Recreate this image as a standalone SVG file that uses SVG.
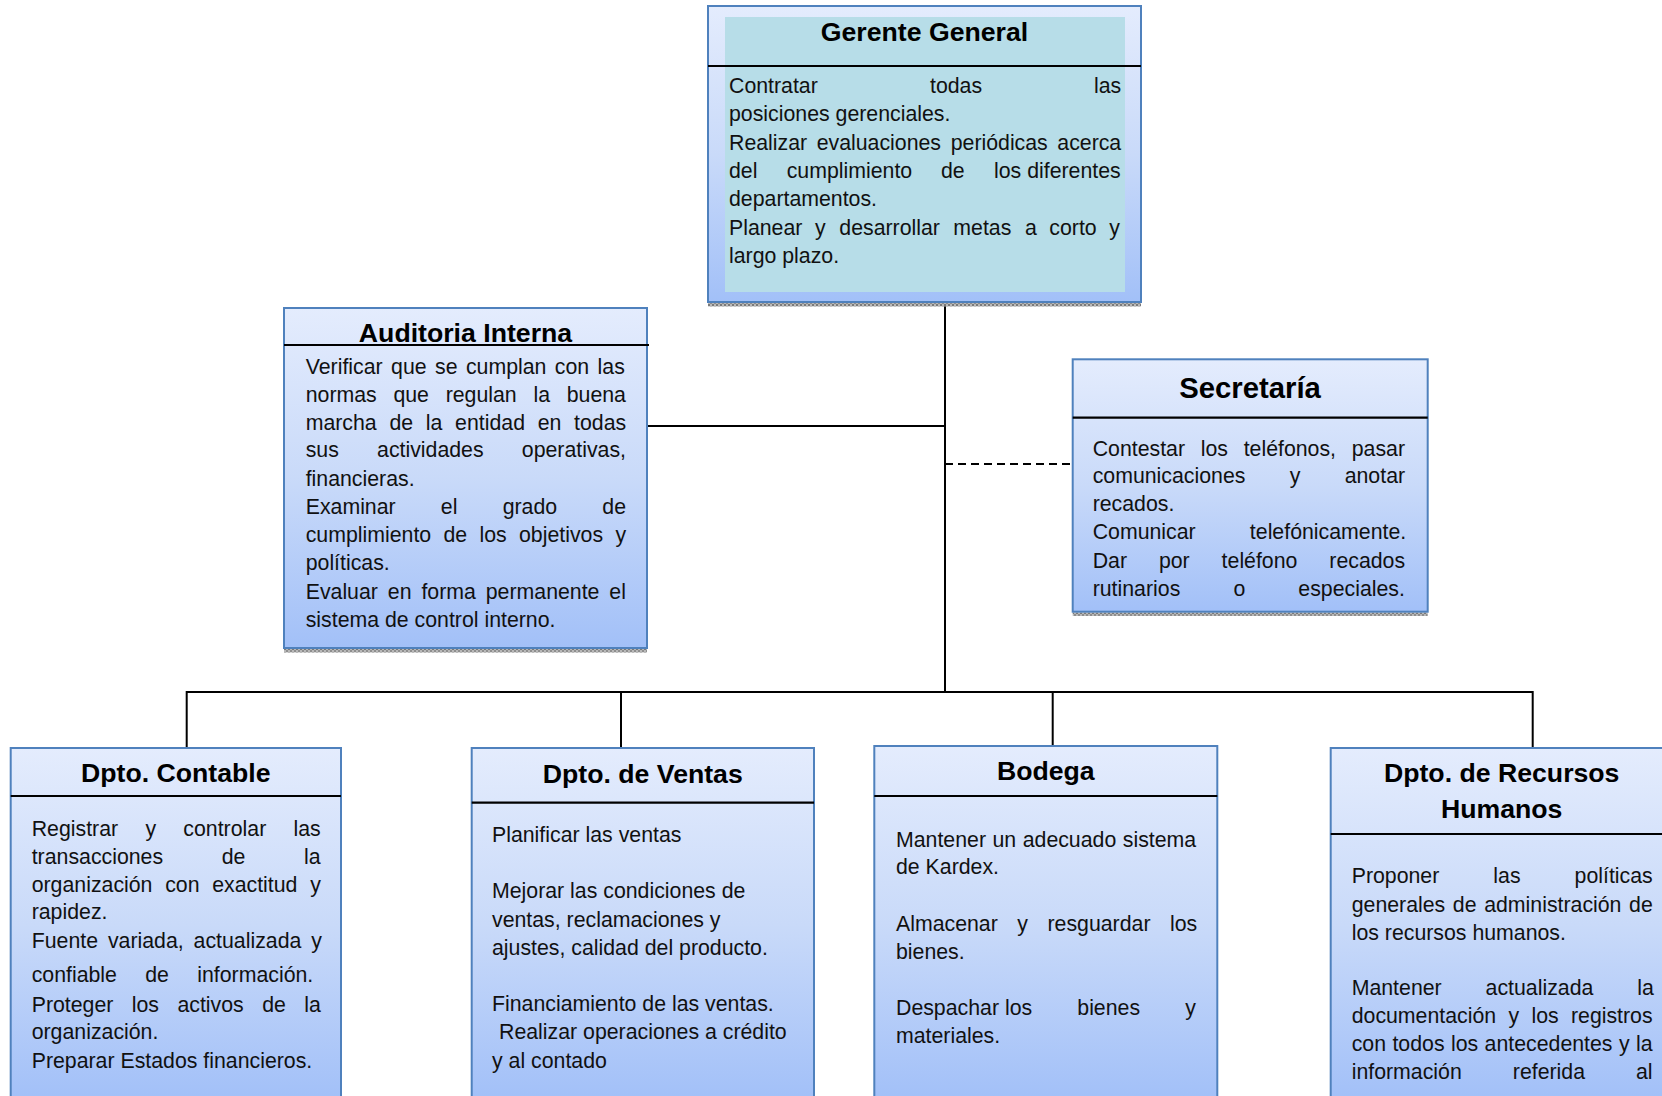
<svg xmlns="http://www.w3.org/2000/svg" width="1662" height="1096" viewBox="0 0 1662 1096">
  <defs>
    <linearGradient id="boxFill" x1="0" y1="0" x2="0" y2="1">
      <stop offset="0" stop-color="#e4ecfd"/>
      <stop offset="0.5" stop-color="#c9daf9"/>
      <stop offset="1" stop-color="#a2c0f8"/>
    </linearGradient>
    <pattern id="shadowHatch" width="4" height="4" patternUnits="userSpaceOnUse">
      <rect width="4" height="4" fill="#b8b8b8"/>
      <rect width="2" height="2" fill="#7a7a7a"/>
      <rect x="2" y="2" width="2" height="2" fill="#8e8e8e"/>
    </pattern>
    <style>
      .box { fill: url(#boxFill); stroke: #4f81bd; stroke-width: 2; }
      .inner { fill: #b7dde8; }
      .shadow { fill: url(#shadowHatch); }
      .hdr { stroke: #000; stroke-width: 2.2; }
      .ttl { font-family: "Liberation Sans", Arial, sans-serif; font-weight: bold; font-size: 26.67px; fill: #000; text-anchor: middle; }
      .txt { font-family: "Liberation Sans", Arial, sans-serif; font-size: 21.3px; fill: #111; }
      .link { stroke: #000; stroke-width: 2; fill: none; }
      .dash { stroke-dasharray: 8 5; }
    </style>
  </defs>

  <!-- connectors -->
  <g id="connectors">
    <line class="link" x1="945" y1="306" x2="945" y2="692"/>
    <line class="link" x1="647" y1="426" x2="945" y2="426"/>
    <line class="link dash" x1="945" y1="464" x2="1073" y2="464"/>
    <polyline class="link" points="186.7,748 186.7,692 1532.7,692 1532.7,748"/>
    <line class="link" x1="621" y1="692" x2="621" y2="748"/>
    <line class="link" x1="1052.7" y1="692" x2="1052.7" y2="746"/>
  </g>

  <!-- Gerente General -->
  <g id="gerente-general">
    <rect class="shadow" x="708" y="303" width="433" height="3.5"/>
    <rect class="box" x="708" y="6" width="433" height="296"/>
    <rect class="inner" x="725" y="17" width="400" height="275"/>
    <line class="hdr" x1="708" y1="66" x2="1141" y2="66"/>
    <text class="ttl" x="924.5" y="41">Gerente General</text>
    <text class="txt" y="93"><tspan x="729">Contratar</tspan><tspan x="930">todas</tspan><tspan x="1094">las</tspan></text>
    <text class="txt" x="729" y="121">posiciones gerenciales.</text>
    <text class="txt" y="149.5"><tspan x="729">Realizar</tspan><tspan x="816.7">evaluaciones</tspan><tspan x="950.7">periódicas</tspan><tspan x="1057.3">acerca</tspan></text>
    <text class="txt" y="178"><tspan x="729">del</tspan><tspan x="786.7">cumplimiento</tspan><tspan x="941">de</tspan><tspan x="994">los diferentes</tspan></text>
    <text class="txt" x="729" y="206">departamentos.</text>
    <text class="txt" y="234.5"><tspan x="729">Planear</tspan><tspan x="815">y</tspan><tspan x="839.3">desarrollar</tspan><tspan x="953.3">metas</tspan><tspan x="1025">a</tspan><tspan x="1049.3">corto</tspan><tspan x="1109.3">y</tspan></text>
    <text class="txt" x="729" y="262.5">largo plazo.</text>
  </g>

  <!-- Auditoria Interna -->
  <g id="auditoria-interna">
    <rect class="shadow" x="284" y="649" width="363" height="3.5"/>
    <rect class="box" x="284" y="308" width="363" height="340"/>
    <line class="hdr" x1="284" y1="345" x2="649" y2="345"/>
    <text class="ttl" x="465.5" y="342">Auditoria Interna</text>
    <text class="txt" x="305.7" y="374" word-spacing="2.5">Verificar que se cumplan con las</text>
    <text class="txt" x="305.7" y="401.7" word-spacing="10.8">normas que regulan la buena</text>
    <text class="txt" x="305.7" y="430" word-spacing="6.8">marcha de la entidad en todas</text>
    <text class="txt" x="305.7" y="457.3" word-spacing="32.3">sus actividades operativas,</text>
    <text class="txt" x="305.7" y="485.7">financieras.</text>
    <text class="txt" x="305.7" y="514.3" word-spacing="39.3">Examinar el grado de</text>
    <text class="txt" x="305.7" y="542.3" word-spacing="6.4">cumplimiento de los objetivos y</text>
    <text class="txt" x="305.7" y="570">políticas.</text>
    <text class="txt" x="305.7" y="599" word-spacing="4">Evaluar en forma permanente el</text>
    <text class="txt" x="305.7" y="626.7">sistema de control interno.</text>
  </g>

  <!-- Secretaría -->
  <g id="secretaria">
    <rect class="shadow" x="1072.7" y="612.5" width="355" height="3.5"/>
    <rect class="box" x="1072.7" y="359.3" width="355" height="252.4"/>
    <line class="hdr" x1="1072.7" y1="417.7" x2="1427.7" y2="417.7"/>
    <text class="ttl" x="1250" y="397.5" style="font-size:29.3px">Secretaría</text>
    <text class="txt" x="1092.7" y="455.5" word-spacing="9.8">Contestar los teléfonos, pasar</text>
    <text class="txt" x="1092.7" y="483" word-spacing="38.4">comunicaciones y anotar</text>
    <text class="txt" x="1092.7" y="511">recados.</text>
    <text class="txt" x="1092.7" y="539" word-spacing="48.3">Comunicar telefónicamente.</text>
    <text class="txt" x="1092.7" y="567.5" word-spacing="26">Dar por teléfono recados</text>
    <text class="txt" x="1092.7" y="595.5" word-spacing="47.2">rutinarios o especiales.</text>
  </g>

  <!-- Dpto. Contable -->
  <g id="dpto-contable">
    <rect class="box" x="10.7" y="748" width="330.3" height="352"/>
    <line class="hdr" x1="10.7" y1="796" x2="341" y2="796"/>
    <text class="ttl" x="175.8" y="782">Dpto. Contable</text>
    <text class="txt" x="31.7" y="836" word-spacing="21.4">Registrar y controlar las</text>
    <text class="txt" x="31.7" y="864" word-spacing="52.7">transacciones de la</text>
    <text class="txt" x="31.7" y="892" word-spacing="6.8">organización con exactitud y</text>
    <text class="txt" x="31.7" y="919.3">rapidez.</text>
    <text class="txt" x="31.7" y="948.3" word-spacing="4">Fuente variada, actualizada y</text>
    <text class="txt" x="31.7" y="981.7" word-spacing="22.4">confiable de información.</text>
    <text class="txt" x="31.7" y="1011.7" word-spacing="12.5">Proteger los activos de la</text>
    <text class="txt" x="31.7" y="1039.3">organización.</text>
    <text class="txt" x="31.7" y="1068.3">Preparar Estados financieros.</text>
  </g>

  <!-- Dpto. de Ventas -->
  <g id="dpto-ventas">
    <rect class="box" x="471.7" y="748" width="342.3" height="352"/>
    <line class="hdr" x1="471.7" y1="802.7" x2="814" y2="802.7"/>
    <text class="ttl" x="642.8" y="783.3">Dpto. de Ventas</text>
    <text class="txt" x="492" y="842.3">Planificar las ventas</text>
    <text class="txt" x="492" y="898.3">Mejorar las condiciones de</text>
    <text class="txt" x="492" y="926.7">ventas, reclamaciones y</text>
    <text class="txt" x="492" y="955">ajustes, calidad del producto.</text>
    <text class="txt" x="492" y="1011">Financiamiento de las ventas.</text>
    <text class="txt" x="499" y="1039.3">Realizar operaciones a crédito</text>
    <text class="txt" x="492" y="1067.7">y al contado</text>
  </g>

  <!-- Bodega -->
  <g id="bodega">
    <rect class="box" x="874.3" y="746" width="343" height="354"/>
    <line class="hdr" x1="874.3" y1="796" x2="1217.3" y2="796"/>
    <text class="ttl" x="1045.8" y="780">Bodega</text>
    <text class="txt" x="896" y="846.7" word-spacing="0.6">Mantener un adecuado sistema</text>
    <text class="txt" x="896" y="874.3">de Kardex.</text>
    <text class="txt" x="896" y="930.7" word-spacing="13.6">Almacenar y resguardar los</text>
    <text class="txt" x="896" y="959.3">bienes.</text>
    <text class="txt" y="1015"><tspan x="896">Despachar los</tspan><tspan x="1077.3">bienes</tspan><tspan x="1185.3">y</tspan></text>
    <text class="txt" x="896" y="1043.3">materiales.</text>
  </g>

  <!-- Dpto. de Recursos Humanos -->
  <g id="dpto-recursos-humanos">
    <rect class="box" x="1330.7" y="748" width="343" height="352"/>
    <line class="hdr" x1="1330.7" y1="834" x2="1673.7" y2="834"/>
    <text class="ttl" x="1501.7" y="781.7">Dpto. de Recursos</text>
    <text class="ttl" x="1501.7" y="817.7">Humanos</text>
    <text class="txt" x="1351.7" y="883.3" word-spacing="48.1">Proponer las políticas</text>
    <text class="txt" x="1351.7" y="911.7" word-spacing="1.7">generales de administración de</text>
    <text class="txt" x="1351.7" y="940">los recursos humanos.</text>
    <text class="txt" x="1351.7" y="995" word-spacing="38">Mantener actualizada la</text>
    <text class="txt" x="1351.7" y="1023.3" word-spacing="6.4">documentación y los registros</text>
    <text class="txt" x="1351.7" y="1051" word-spacing="0.5">con todos los antecedentes y la</text>
    <text class="txt" x="1351.7" y="1079.3" word-spacing="45.1">información referida al</text>
  </g>
</svg>
